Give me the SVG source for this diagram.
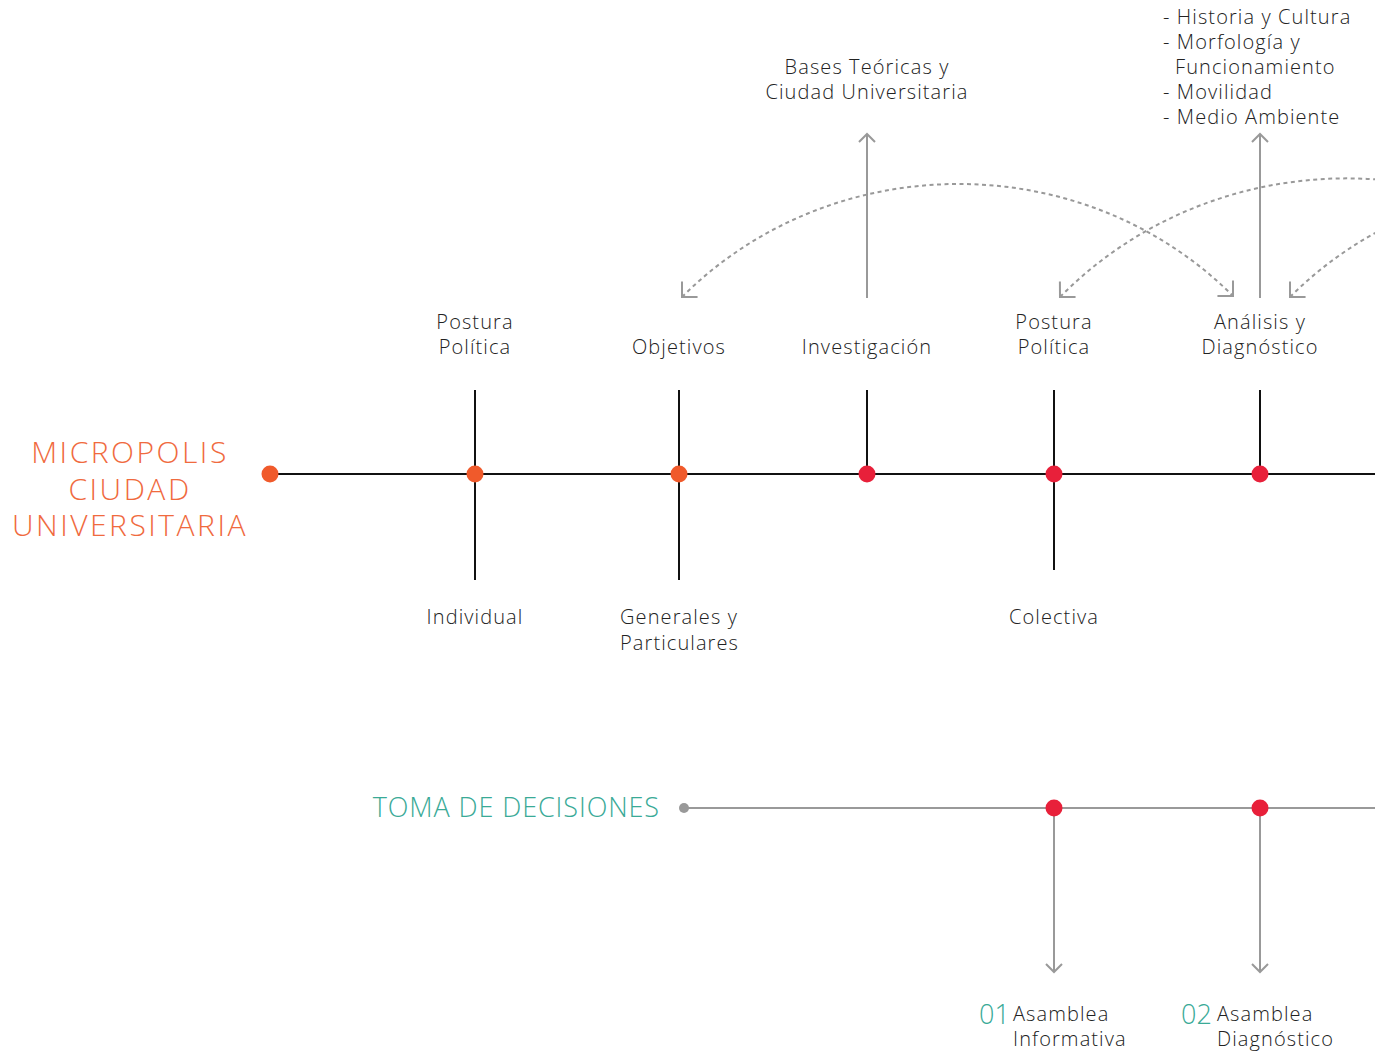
<svg xmlns="http://www.w3.org/2000/svg" width="1375" height="1056" viewBox="0 0 1375 1056">
<style>
.t{font-family:"Open Sans","Liberation Sans",sans-serif;font-size:20px;fill:#222;font-weight:300;letter-spacing:1.1px}
.c{text-anchor:middle}
.title{font-family:"Open Sans","Liberation Sans",sans-serif;font-size:30px;fill:#f06a3e;font-weight:300;text-anchor:middle;letter-spacing:2.5px}
.teal{font-family:"Open Sans","Liberation Sans",sans-serif;fill:#3aaa97;font-weight:300}
.tick{stroke:#111;stroke-width:2}
.gray{stroke:#999;stroke-width:2;fill:none}
.dash{stroke:#999;stroke-width:2;fill:none;stroke-dasharray:4 3.5}
.or{fill:#f05a2b}
.rd{fill:#e8203a}
</style>
<defs>
<marker id="ah" markerUnits="userSpaceOnUse" markerWidth="30" markerHeight="30" refX="0" refY="0" viewBox="-15 -15 30 30" orient="auto" overflow="visible">
<path d="M-8,-8 L0,0 L-8,8" fill="none" stroke="#999" stroke-width="2"/>
</marker>
<marker id="ah2" markerUnits="userSpaceOnUse" markerWidth="30" markerHeight="30" refX="0" refY="0" viewBox="-15 -15 30 30" orient="auto-start-reverse" overflow="visible">
<path d="M-11,-11 L0,0 L-11,11" fill="none" stroke="#999" stroke-width="2"/>
</marker>
</defs>

<g id="connectors">
<line class="tick" x1="270" y1="474" x2="1375" y2="474"/>
<line class="tick" x1="475" y1="390" x2="475" y2="580"/>
<line class="tick" x1="679" y1="390" x2="679" y2="580"/>
<line class="tick" x1="867" y1="390" x2="867" y2="474"/>
<line class="tick" x1="1054" y1="390" x2="1054" y2="570"/>
<line class="tick" x1="1260" y1="390" x2="1260" y2="474"/>
<line class="gray" x1="867" y1="298" x2="867" y2="134" marker-end="url(#ah)"/>
<line class="gray" x1="1260" y1="298" x2="1260" y2="134" marker-end="url(#ah)"/>
<path class="dash" d="M682,297 C832,147 1083,146 1233,296" marker-start="url(#ah2)" marker-end="url(#ah2)"/>
<path class="dash" d="M1060,297 C1215,140 1475,138 1630,296" marker-start="url(#ah2)"/>
<path class="dash" d="M1290,297 C1440,147 1691,146 1841,296" marker-start="url(#ah2)"/>
<line class="gray" x1="684" y1="808" x2="1375" y2="808"/>
<line class="gray" x1="1054" y1="808" x2="1054" y2="972" marker-end="url(#ah)"/>
<line class="gray" x1="1260" y1="808" x2="1260" y2="972" marker-end="url(#ah)"/>
</g>

<g id="title">
<text class="title" x="130" y="463">MICROPOLIS</text>
<text class="title" x="130" y="500">CIUDAD</text>
<text class="title" x="130" y="536">UNIVERSITARIA</text>
</g>

<g id="n-start"><circle class="or" cx="270" cy="474" r="8.5"/></g>
<g id="n-postura1">
<circle class="or" cx="475" cy="474" r="8.5"/>
<text class="t c" x="475" y="329">Postura</text>
<text class="t c" x="475" y="354">Política</text>
<text class="t c" x="475" y="624">Individual</text>
</g>
<g id="n-objetivos">
<circle class="or" cx="679" cy="474" r="8.5"/>
<text class="t c" x="679" y="354">Objetivos</text>
<text class="t" x="620" y="624">Generales y</text>
<text class="t" x="620" y="650">Particulares</text>
</g>
<g id="n-investigacion">
<circle class="rd" cx="867" cy="474" r="8.5"/>
<text class="t c" x="867" y="354">Investigación</text>
<text class="t c" x="867" y="74">Bases Teóricas y</text>
<text class="t c" x="867" y="99">Ciudad Universitaria</text>
</g>
<g id="n-postura2">
<circle class="rd" cx="1054" cy="474" r="8.5"/>
<text class="t c" x="1054" y="329">Postura</text>
<text class="t c" x="1054" y="354">Política</text>
<text class="t c" x="1054" y="624">Colectiva</text>
</g>
<g id="n-analisis">
<circle class="rd" cx="1260" cy="474" r="8.5"/>
<text class="t c" x="1260" y="329">Análisis y</text>
<text class="t c" x="1260" y="354">Diagnóstico</text>
<text class="t" x="1163" y="24">- Historia y Cultura</text>
<text class="t" x="1163" y="49">- Morfología y</text>
<text class="t" x="1175" y="74">Funcionamiento</text>
<text class="t" x="1163" y="99">- Movilidad</text>
<text class="t" x="1163" y="124">- Medio Ambiente</text>
</g>

<g id="n-toma">
<text class="teal" x="660" y="817" font-size="27" text-anchor="end" letter-spacing="0.9">TOMA DE DECISIONES</text>
<circle cx="684" cy="808" r="5" fill="#999"/>
</g>
<g id="n-asamblea1">
<circle class="rd" cx="1054" cy="808" r="8.5"/>
<text class="teal" x="979" y="1024" font-size="27">01</text>
<text class="t" x="1013" y="1021">Asamblea</text>
<text class="t" x="1013" y="1046">Informativa</text>
</g>
<g id="n-asamblea2">
<circle class="rd" cx="1260" cy="808" r="8.5"/>
<text class="teal" x="1181" y="1024" font-size="27">02</text>
<text class="t" x="1217" y="1021">Asamblea</text>
<text class="t" x="1217" y="1046">Diagnóstico</text>
</g>
</svg>
